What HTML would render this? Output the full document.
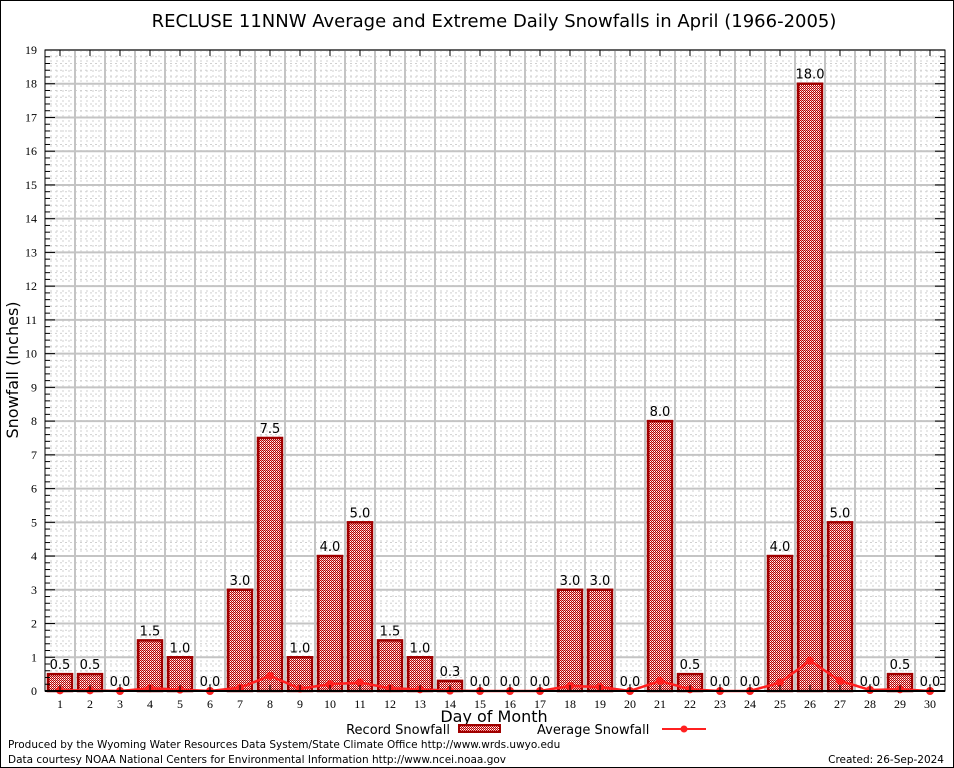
<!DOCTYPE html>
<html><head><meta charset="utf-8"><style>
body{margin:0;background:#fff}
svg{display:block;font-family:"DejaVu Sans","Liberation Sans",sans-serif}
</style></head><body>
<svg id="chart" width="954" height="768" xmlns="http://www.w3.org/2000/svg">
<defs>
<pattern id="chk" x="0" y="0" width="2" height="2" patternUnits="userSpaceOnUse">
<rect width="2" height="2" fill="#fff"/><rect width="1" height="1" fill="#b80000"/><rect x="1" y="1" width="1" height="1" fill="#b80000"/><rect x="1" y="0" width="1" height="1" fill="#e8a0a0"/>
</pattern>
</defs>
<rect x="0.5" y="0.5" width="953" height="767" fill="#fff" stroke="#000"/>
<text x="494" y="27" font-size="18" text-anchor="middle">RECLUSE 11NNW Average and Extreme Daily Snowfalls in April (1966-2005)</text>
<g id="grid"></g>
<g id="bars"></g>
<g id="avg"></g>
<g id="axes"></g>
<text x="18" y="370" font-size="16" text-anchor="middle" transform="rotate(-90 18 370)">Snowfall (Inches)</text>
<text x="494" y="722" font-size="16" text-anchor="middle">Day of Month</text>
<g>
<text x="450" y="734" font-size="13" text-anchor="end">Record Snowfall</text>
<rect x="459" y="725" width="41" height="7" fill="url(#chk)" stroke="#a00000" stroke-width="2"/>
<text x="537" y="734" font-size="13">Average Snowfall</text>
<line x1="662" y1="729" x2="706" y2="729" stroke="#ff2020" stroke-width="2"/>
<circle cx="684" cy="729" r="3.5" fill="#ff2020"/>
</g>
<text x="8" y="748" font-size="10.5">Produced by the Wyoming Water Resources Data System/State Climate Office http://www.wrds.uwyo.edu</text>
<text x="8" y="763" font-size="10.5">Data courtesy NOAA National Centers for Environmental Information http://www.ncei.noaa.gov</text>
<text x="944" y="763" font-size="10.5" text-anchor="end">Created: 26-Sep-2024</text>
</svg>
<script>
const days=[1,2,3,4,5,6,7,8,9,10,11,12,13,14,15,16,17,18,19,20,21,22,23,24,25,26,27,28,29,30];
const recordSnow=[0.5,0.5,0,1.5,1,0,3,7.5,1,4,5,1.5,1,0.3,0,0,0,3,3,0,8,0.5,0,0,4,18,5,0,0.5,0];
const recordLabels=["0.5","0.5","0.0","1.5","1.0","0.0","3.0","7.5","1.0","4.0","5.0","1.5","1.0","0.3","0.0","0.0","0.0","3.0","3.0","0.0","8.0","0.5","0.0","0.0","4.0","18.0","5.0","0.0","0.5","0.0"];
const avgSnow=[0.02,0.02,0,0.08,0.04,0,0.1,0.45,0.07,0.2,0.25,0.08,0.05,0.01,0,0,0,0.15,0.12,0,0.3,0.05,0,0,0.25,0.9,0.3,0.03,0.05,0];
const yTicks=[0,1,2,3,4,5,6,7,8,9,10,11,12,13,14,15,16,17,18,19];
const NS="http://www.w3.org/2000/svg";
const L=45,R=945,T=50,B=691,yMax=19;
const xs=d=>L+(d-0.5)*(R-L)/30;
const ys=v=>B-v*(B-T)/yMax;
function mk(tag,attrs,parent){const e=document.createElementNS(NS,tag);for(const k in attrs)e.setAttribute(k,attrs[k]);parent.appendChild(e);return e;}
const grid=document.getElementById('grid'),bars=document.getElementById('bars'),avg=document.getElementById('avg'),axes=document.getElementById('axes');
mk('rect',{x:L,y:T,width:R-L,height:B-T,fill:'#fff'},grid);
for(let v=0;v<=yMax*5;v++){const y=ys(v/5);mk('line',{x1:L,x2:R,y1:y,y2:y,stroke:'#d0d0d0','stroke-dasharray':'2,3','stroke-width':1},grid);}
for(let i=0;i<=150;i++){const x=L+i*6;mk('line',{x1:x,x2:x,y1:T,y2:B,stroke:'#d0d0d0','stroke-dasharray':'2,3','stroke-width':1},grid);}
yTicks.forEach(t=>{const y=ys(t);mk('line',{x1:L,x2:R,y1:y,y2:y,stroke:'#c4c4c4','stroke-width':2},grid);});
for(let d=1;d<30;d++){const x=xs(d+0.5);mk('line',{x1:x,x2:x,y1:T,y2:B,stroke:'#c4c4c4','stroke-width':2},grid);}
days.forEach((d,i)=>{
  const v=recordSnow[i];
  if(v>0){
    const r=mk('rect',{x:xs(d)-12,y:ys(v),width:24,height:B-ys(v),fill:'url(#chk)',stroke:'#a00000','stroke-width':2.5},bars);
    
    
  }
  const t=mk('text',{x:xs(d),y:ys(v)-5,'font-size':13,'text-anchor':'middle'},bars);
  t.textContent=recordLabels[i];
  
  
});
const pts=days.map((d,i)=>xs(d)+','+ys(avgSnow[i])).join(' ');
const pl=mk('polyline',{points:pts,fill:'none',stroke:'#ff2020','stroke-width':2.5},avg);


days.forEach((d,i)=>{
  const c=mk('circle',{cx:xs(d),cy:ys(avgSnow[i]),r:4,fill:'#ff2020'},avg);
  
  
});
const fr=mk('rect',{x:L,y:T,width:R-L,height:B-T,fill:'none',stroke:'#000','stroke-width':1},axes);


for(let v=0;v<=yMax*5;v++){const y=ys(v/5);const len=v%5===0?10:5;mk('line',{x1:L,x2:L+len,y1:y,y2:y,stroke:'#000'},axes);mk('line',{x1:R,x2:R-len,y1:y,y2:y,stroke:'#000'},axes);}
yTicks.forEach(t=>{const e=mk('text',{x:L-8,y:ys(t)+4,'font-size':12,'text-anchor':'end','font-family':'Liberation Serif, serif'},axes);e.textContent=t;

});
days.forEach(d=>{const x=xs(d);mk('line',{x1:x,x2:x,y1:B,y2:B-6,stroke:'#000'},axes);mk('line',{x1:x,x2:x,y1:T,y2:T+6,stroke:'#000'},axes);
const e=mk('text',{x:x,y:B+17,'font-size':12,'text-anchor':'middle','font-family':'Liberation Serif, serif'},axes);e.textContent=d;

});
mk('line',{x1:L,x2:R,y1:B,y2:B,stroke:'#000','stroke-width':2},axes);
</script>
</body></html>
